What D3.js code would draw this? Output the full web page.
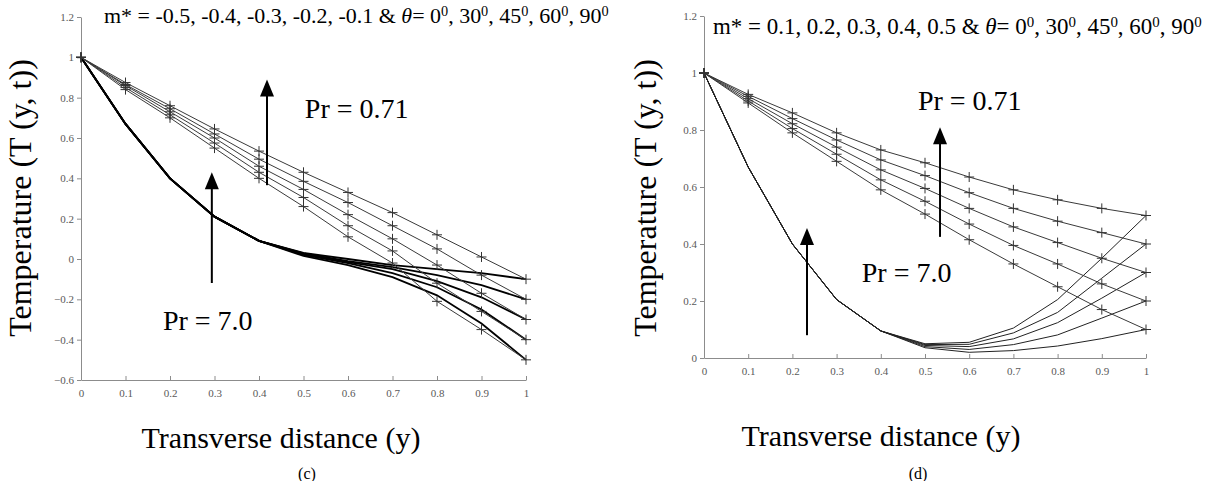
<!DOCTYPE html>
<html>
<head>
<meta charset="utf-8">
<script src="https://cdn.jsdelivr.net/npm/d3@7"></script>
<style>
  body { margin: 0; background: #fff; }
  svg { display: block; font-family: "Liberation Serif", "Times New Roman", serif; }
</style>
</head>
<body>
<svg id="chart" width="1211" height="481"></svg>
<script>
// transverse distance samples
const yDist = [0, 0.1, 0.2, 0.3, 0.4, 0.5, 0.6, 0.7, 0.8, 0.9, 1];

// panel (c): m* negative
const mNeg = [-0.1, -0.2, -0.3, -0.4, -0.5];
const c_pr071 = [
  [1, 0.875, 0.76, 0.645, 0.535, 0.43, 0.33, 0.23, 0.12, 0.01, -0.10],
  [1, 0.865, 0.745, 0.62, 0.495, 0.385, 0.28, 0.165, 0.05, -0.08, -0.20],
  [1, 0.86, 0.73, 0.60, 0.46, 0.345, 0.22, 0.10, -0.03, -0.17, -0.30],
  [1, 0.85, 0.715, 0.575, 0.43, 0.305, 0.165, 0.04, -0.12, -0.26, -0.40],
  [1, 0.84, 0.70, 0.55, 0.40, 0.26, 0.11, -0.02, -0.21, -0.35, -0.50]
];
const c_pr7 = [
  [1, 0.67, 0.40, 0.21, 0.09, 0.03, 0.00, -0.03, -0.05, -0.07, -0.10],
  [1, 0.67, 0.40, 0.21, 0.09, 0.028, -0.01, -0.04, -0.08, -0.13, -0.20],
  [1, 0.67, 0.40, 0.21, 0.09, 0.025, -0.015, -0.05, -0.11, -0.19, -0.30],
  [1, 0.67, 0.40, 0.21, 0.09, 0.02, -0.02, -0.07, -0.14, -0.25, -0.40],
  [1, 0.67, 0.40, 0.21, 0.09, 0.015, -0.03, -0.09, -0.18, -0.32, -0.50]
];

// panel (d): m* positive
const mPos = [0.5, 0.4, 0.3, 0.2, 0.1];
const d_pr071 = [
  [1, 0.925, 0.86, 0.79, 0.73, 0.685, 0.635, 0.59, 0.555, 0.525, 0.50],
  [1, 0.918, 0.84, 0.765, 0.695, 0.64, 0.58, 0.525, 0.48, 0.44, 0.40],
  [1, 0.91, 0.822, 0.74, 0.66, 0.595, 0.525, 0.46, 0.405, 0.35, 0.30],
  [1, 0.902, 0.805, 0.715, 0.625, 0.55, 0.47, 0.395, 0.33, 0.26, 0.20],
  [1, 0.895, 0.79, 0.69, 0.59, 0.505, 0.415, 0.33, 0.25, 0.17, 0.10]
];
const d_pr7 = [
  [1, 0.67, 0.40, 0.205, 0.095, 0.05, 0.055, 0.105, 0.205, 0.35, 0.50],
  [1, 0.67, 0.40, 0.205, 0.095, 0.047, 0.048, 0.088, 0.16, 0.28, 0.40],
  [1, 0.67, 0.40, 0.205, 0.095, 0.044, 0.04, 0.067, 0.124, 0.21, 0.30],
  [1, 0.67, 0.40, 0.205, 0.095, 0.04, 0.03, 0.047, 0.081, 0.14, 0.20],
  [1, 0.67, 0.40, 0.205, 0.095, 0.036, 0.02, 0.026, 0.042, 0.068, 0.10]
];

const xTicks = [0, 0.1, 0.2, 0.3, 0.4, 0.5, 0.6, 0.7, 0.8, 0.9, 1];
const cYTicks = [-0.6, -0.4, -0.2, 0, 0.2, 0.4, 0.6, 0.8, 1, 1.2];
const dYTicks = [0, 0.2, 0.4, 0.6, 0.8, 1, 1.2];
const angles = ["0", "30", "45", "60", "90"];

const svg = d3.select("#chart");
svg.append("rect").attr("width", 1211).attr("height", 481).attr("fill", "#fff");

function drawPanel(p) {
  const x = d3.scaleLinear().domain([0, 1]).range([p.x0, p.x1]);
  const y = d3.scaleLinear().domain(p.yDomain).range([p.yBottom, p.yTop]);
  const g = svg.append("g");

  // axes
  const xAxis = g.append("g")
    .attr("transform", `translate(0,${p.yBottom})`)
    .call(d3.axisBottom(x).tickValues(xTicks).tickSizeInner(-4).tickSizeOuter(0)
      .tickFormat(d3.format("~g")));
  const yAxis = g.append("g")
    .attr("transform", `translate(${p.x0},0)`)
    .call(d3.axisLeft(y).tickValues(p.yTicks).tickSizeInner(4).tickSizeOuter(0)
      .tickFormat(d3.format("~g")));
  [xAxis, yAxis].forEach(a => {
    a.select(".domain").attr("stroke", "#8c8c8c");
    a.selectAll(".tick line").attr("stroke", "#8c8c8c");
    a.selectAll(".tick text")
      .attr("fill", "#595959")
      .style("font-family", "Liberation Serif, serif")
      .style("font-size", "11px");
  });
  xAxis.selectAll(".tick text").attr("dy", "1.3em");
  yAxis.selectAll(".tick text").attr("x", -7);

  const line = d3.line().x((d, i) => x(yDist[i])).y(d => y(d));

  // Pr = 7.0 curves
  g.selectAll(".pr7")
    .data(p.pr7)
    .enter().append("path")
    .attr("class", "pr7")
    .attr("d", line)
    .attr("fill", "none")
    .attr("stroke", p.pr7Color)
    .attr("stroke-width", p.pr7Width);

  // Pr = 0.71 curves with + markers
  g.selectAll(".pr071")
    .data(p.pr071)
    .enter().append("path")
    .attr("class", "pr071")
    .attr("d", line)
    .attr("fill", "none")
    .attr("stroke", "#3a3a3a")
    .attr("stroke-width", 1);

  const pts = p.pr071.flatMap(s => s.map((v, i) => ({ t: yDist[i], v })));
  g.selectAll(".mk")
    .data(pts)
    .enter().append("path")
    .attr("class", "mk")
    .attr("d", d => {
      const cx = x(d.t), cy = y(d.v);
      return `M${cx - 5},${cy}H${cx + 5}M${cx},${cy - 5}V${cy + 5}`;
    })
    .attr("stroke", "#333")
    .attr("stroke-width", 1);

  // arrows and Pr labels
  p.arrows.forEach(a => {
    const ax = x(a.x), yb = y(a.from), yt = y(a.to);
    g.append("line")
      .attr("x1", ax).attr("x2", ax)
      .attr("y1", yb).attr("y2", yt + 14)
      .attr("stroke", "#000").attr("stroke-width", 2);
    g.append("path")
      .attr("d", `M${ax},${yt}L${ax - 7},${yt + 17}L${ax + 7},${yt + 17}Z`)
      .attr("fill", "#000");
  });
  p.labels.forEach(l => {
    g.append("text")
      .attr("x", x(l.x)).attr("y", y(l.y))
      .style("font-size", "28px")
      .attr("fill", "#000")
      .text(l.text);
  });

  // axis titles
  g.append("text")
    .attr("transform", `translate(${p.yLabelX},198) rotate(-90)`)
    .attr("text-anchor", "middle")
    .style("font-size", "32px")
    .text("Temperature (T (y, t))");
  g.append("text")
    .attr("x", p.xLabelX).attr("y", p.xLabelY)
    .attr("text-anchor", "middle")
    .style("font-size", "30px")
    .text("Transverse distance (y)");
  g.append("text")
    .attr("x", p.capX).attr("y", 479)
    .attr("text-anchor", "middle")
    .style("font-size", "16px")
    .text(p.caption);

  // header, sized to the width it takes in the figure
  const t = g.append("text")
    .attr("x", p.titleX).attr("y", p.titleY)
    .style("font-size", "20px");
  t.append("tspan").text(p.mText + " & ");
  t.append("tspan").style("font-style", "italic").text("θ");
  t.append("tspan").text("= ");
  angles.forEach((a, i) => {
    t.append("tspan").text(a);
    t.append("tspan").attr("class", "sup").attr("dy", -7).style("font-size", "13px").text("0");
    t.append("tspan").attr("dy", 7).text(i < angles.length - 1 ? ", " : "");
  });
  const k = p.titleW / t.node().getComputedTextLength();
  t.style("font-size", (20 * k) + "px");
  t.selectAll(".sup").style("font-size", (13 * k) + "px");
}

drawPanel({
  x0: 81, x1: 526, yTop: 17, yBottom: 380, yDomain: [-0.6, 1.2], yTicks: cYTicks,
  pr071: c_pr071, pr7: c_pr7, pr7Color: "#000", pr7Width: 1.8,
  arrows: [{ x: 0.418, from: 0.366, to: 0.89 }, { x: 0.294, from: -0.119, to: 0.43 }],
  labels: [{ x: 0.503, y: 0.70, text: "Pr = 0.71" }, { x: 0.184, y: -0.35, text: "Pr = 7.0" }],
  yLabelX: 31, xLabelX: 281, xLabelY: 448, capX: 307, caption: "(c)",
  titleX: 104, titleY: 23, titleW: 505, mText: "m* = -0.5, -0.4, -0.3, -0.2, -0.1"
});

drawPanel({
  x0: 704, x1: 1146, yTop: 16, yBottom: 358, yDomain: [0, 1.2], yTicks: dYTicks,
  pr071: d_pr071, pr7: d_pr7, pr7Color: "#222", pr7Width: 1,
  arrows: [{ x: 0.534, from: 0.425, to: 0.81 }, { x: 0.233, from: 0.08, to: 0.456 }],
  labels: [{ x: 0.484, y: 0.87, text: "Pr = 0.71" }, { x: 0.357, y: 0.267, text: "Pr = 7.0" }],
  yLabelX: 656, xLabelX: 881, xLabelY: 446, capX: 918, caption: "(d)",
  titleX: 713, titleY: 34, titleW: 489, mText: "m* = 0.1, 0.2, 0.3, 0.4, 0.5"
});
</script>
</body>
</html>
